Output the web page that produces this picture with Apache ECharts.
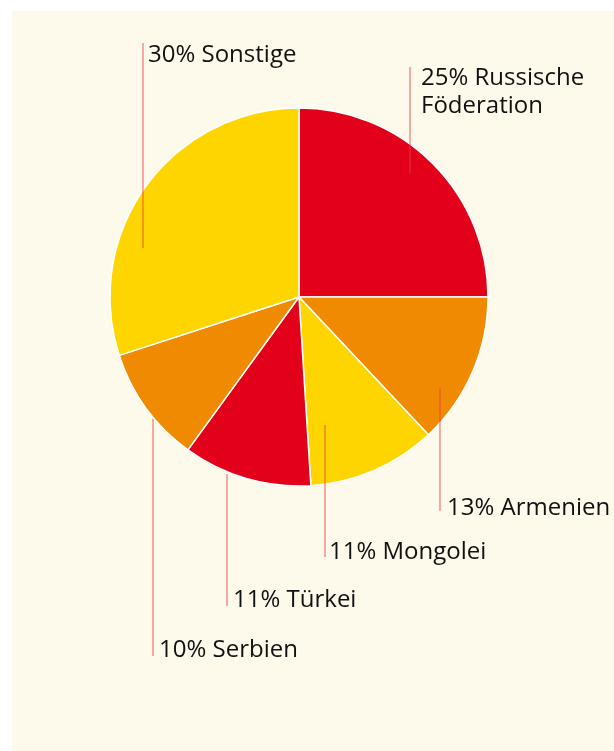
<!DOCTYPE html>
<html lang="de" style="height: 100%">
<head>
  <meta charset="utf-8">
</head>
<body style="height: 100%; margin: 0; background: #ffffff">
  <div id="container" style="width: 614px; height: 751px"></div>

  <script type="text/javascript" src="https://fastly.jsdelivr.net/npm/echarts@6/dist/echarts.min.js"></script>
  <script type="text/javascript">
    // Anteile in Prozent
    var countries = ['Russische\nFöderation', 'Armenien', 'Mongolei', 'Türkei', 'Serbien', 'Sonstige'];
    var shares = [25, 13, 11, 11, 10, 30];
    var sliceColors = ['#e2001a', '#f08a00', '#ffd500', '#e2001a', '#f08a00', '#ffd500'];

    // Beschriftung: x der Linie, inneres Ende, äußeres Ende, x des Textes, Grundlinie, oben/unten
    var labelSpots = [
      [410, 173, 67, 421, 85, 'top'],
      [440, 388, 511, 447, 515, 'bottom'],
      [325, 425, 557, 329, 559, 'bottom'],
      [227, 474, 606, 233, 607, 'bottom'],
      [153, 419, 656, 159, 657, 'bottom'],
      [143, 248, 43, 148, 62, 'top']
    ];

    var dom = document.getElementById('container');
    var myChart = echarts.init(dom, null, { renderer: 'canvas' });

    var pieData = countries.map(function (name, i) {
      return { name: name, value: shares[i], itemStyle: { color: sliceColors[i] } };
    });

    var option = {
      animation: false,
      graphic: [
        {
          type: 'rect',
          z: -10,
          shape: { x: 12, y: 11, width: 602, height: 740 },
          style: { fill: '#fdf9eb' }
        }
      ],
      series: [
        {
          type: 'pie',
          z: 2,
          center: [299, 297],
          radius: 189,
          startAngle: 90,
          clockwise: true,
          silent: true,
          itemStyle: { borderColor: '#ffffff', borderWidth: 1.5 },
          label: { show: false },
          labelLine: { show: false },
          data: pieData
        },
        {
          // gleiche Anteile, nur für Linien und Texte über den Segmenten
          type: 'pie',
          z: 5,
          center: [299, 297],
          radius: 189,
          startAngle: 90,
          clockwise: true,
          silent: true,
          itemStyle: { color: 'rgba(0,0,0,0)', borderWidth: 0 },
          label: {
            show: true,
            position: 'outside',
            overflow: 'none',
            fontFamily: 'Open Sans',
            fontSize: 24,
            lineHeight: 28,
            color: '#111111',
            formatter: function (p) {
              return p.value + '% ' + p.name;
            }
          },
          labelLine: {
            show: true,
            lineStyle: { color: 'rgba(235,60,60,0.7)', width: 1.2 }
          },
          labelLayout: function (params) {
            var s = labelSpots[params.dataIndex];
            var top = s[5] === 'top';
            return {
              x: s[3],
              y: top ? s[4] - 21 : s[4] + 7,
              align: 'left',
              verticalAlign: s[5],
              labelLinePoints: [[s[0], s[1]], [s[0], s[2]]]
            };
          },
          data: shares.map(function (v, i) {
            return { name: countries[i], value: v };
          })
        }
      ]
    };

    myChart.setOption(option);
    window.addEventListener('resize', myChart.resize);
  </script>
</body>
</html>
